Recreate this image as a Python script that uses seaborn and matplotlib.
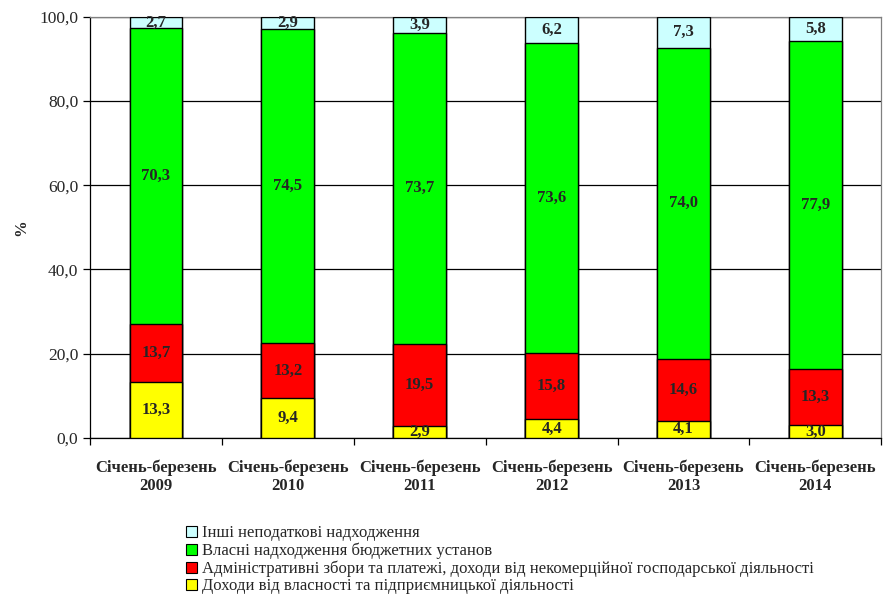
import pandas as pd
import matplotlib.pyplot as plt
import seaborn as sns
from matplotlib.patches import Patch
from matplotlib.ticker import FixedLocator, FuncFormatter

periods = ['Січень-березень\n2009', 'Січень-березень\n2010', 'Січень-березень\n2011',
           'Січень-березень\n2012', 'Січень-березень\n2013', 'Січень-березень\n2014']

# bottom to top
property_income = [13.3, 9.4, 2.9, 4.4, 4.1, 3.0]
admin_fees = [13.7, 13.2, 19.5, 15.8, 14.6, 13.3]
own_revenue = [70.3, 74.5, 73.7, 73.6, 74.0, 77.9]
other_income = [2.7, 2.9, 3.9, 6.2, 7.3, 5.8]

series_names = [
    'Доходи від власності та підприємницької діяльності',
    'Адміністративні збори та платежі, доходи від некомерційної господарської діяльності',
    'Власні надходження бюджетних установ',
    'Інші неподаткові надходження',
]
series_colors = ['#FFFF00', '#FF0000', '#00FF00', '#CCFFFF']

sns.set_style('white')
plt.rcParams['font.family'] = ['Liberation Serif', 'DejaVu Serif']

df = pd.DataFrame({
    'period': periods,
    series_names[0]: property_income,
    series_names[1]: admin_fees,
    series_names[2]: own_revenue,
    series_names[3]: other_income,
})

fig = plt.figure(figsize=(8.83, 5.99), dpi=100)
ax = fig.add_axes([0.102, 0.269, 0.896, 0.703])

# cumulative tops, drawn from the tallest layer down so lower layers overlay
cum = df[series_names].cumsum(axis=1)
for name, color in zip(reversed(series_names), reversed(series_colors)):
    sns.barplot(x=df['period'], y=cum[name], color=color, width=0.4,
                edgecolor='black', linewidth=1, saturation=1, ax=ax, zorder=3)

# value labels at segment centres
for name in series_names:
    tops = cum[name]
    vals = df[name]
    for i, (t, v) in enumerate(zip(tops, vals)):
        ax.text(i, t - v / 2, f'{v:.1f}'.replace('.', ','), ha='center', va='center',
                fontsize=12, fontweight='bold', zorder=5)

ax.set_xlim(-0.5, 5.5)
ax.set_ylim(0, 100)
ax.yaxis.set_major_locator(FixedLocator([0, 20, 40, 60, 80, 100]))
ax.yaxis.set_major_formatter(FuncFormatter(lambda v, p: f'{v:.1f}'.replace('.', ',')))
ax.yaxis.grid(True, color='black', linewidth=0.9, zorder=0)
ax.set_axisbelow(True)
ax.tick_params(axis='y', left=True, length=5, width=0.9, labelsize=12.5, color='black')
ax.tick_params(axis='x', bottom=False, labelsize=12, pad=12)
for lbl in ax.get_xticklabels():
    lbl.set_fontweight('bold')
    lbl.set_linespacing(1.2)
ax.xaxis.set_minor_locator(FixedLocator([-0.5, 0.5, 1.5, 2.5, 3.5, 4.5, 5.5]))
ax.tick_params(axis='x', which='minor', bottom=True, length=5, width=0.9, color='black')
ax.set_xlabel('')
ax.set_ylabel('%', fontsize=12, fontweight='bold', labelpad=7)

ax.spines['left'].set_color('black')
ax.spines['bottom'].set_color('black')
ax.spines['top'].set_color('#808080')
ax.spines['right'].set_color('#808080')
for s in ax.spines.values():
    s.set_linewidth(0.9)

handles = [Patch(facecolor=c, edgecolor='black', linewidth=0.8, label=n)
           for n, c in zip(reversed(series_names), reversed(series_colors))]
fig.legend(handles=handles, loc='upper left', bbox_to_anchor=(0.211, 0.123),
           frameon=False, fontsize=12, handlelength=0.65, handleheight=0.65,
           handletextpad=0.3, labelspacing=0.08, borderaxespad=0, borderpad=0)

fig.savefig('out.png', dpi=100)
